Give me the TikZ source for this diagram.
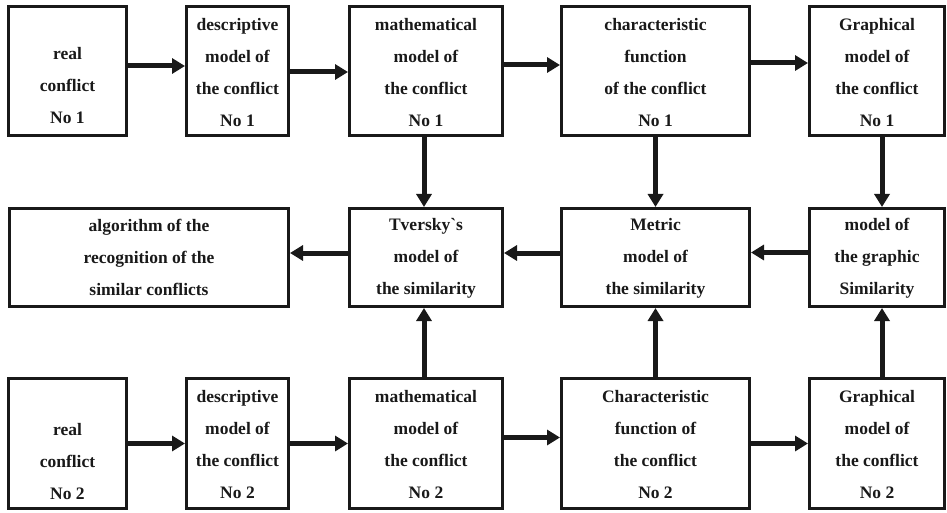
\documentclass[tikz,border=0pt]{standalone}
\usepackage{fontspec}
\setmainfont{Liberation Serif}
\newfontfamily\plainserif{Liberation Serif}
\usetikzlibrary{arrows.meta}
\tikzset{
  box/.style={draw=black!90, line width=3pt, rectangle, inner sep=0pt, fill=white},
  txt/.style={align=center, inner sep=0pt, font=\bfseries\fontsize{17.5}{32}\selectfont, text=black!90},
  arr/.style={draw=black!90, line width=5pt, -{Triangle[length=13pt,width=15pt]}, shorten >=0pt}
}
\begin{document}
\begin{tikzpicture}[x=1pt,y=-1pt]
\useasboundingbox (0,0) rectangle (947,513);
% row 1 boxes
\node[box, minimum width=118pt, minimum height=129pt] (b11) at (67.5,71) {};
\node[box, minimum width=102pt, minimum height=129pt] (b12) at (237.5,71) {};
\node[box, minimum width=153pt, minimum height=129pt] (b13) at (426,71) {};
\node[box, minimum width=188pt, minimum height=129pt] (b14) at (655.5,71) {};
\node[box, minimum width=135pt, minimum height=129pt] (b15) at (877,71) {};
% row 2 boxes
\node[box, minimum width=279pt, minimum height=98pt] (alg) at (149,257.5) {};
\node[box, minimum width=153pt, minimum height=98pt] (tv) at (426,257.5) {};
\node[box, minimum width=188pt, minimum height=98pt] (me) at (655.5,257.5) {};
\node[box, minimum width=135pt, minimum height=98pt] (gs) at (877,257.5) {};
% row 3 boxes
\node[box, minimum width=118pt, minimum height=130pt] (b31) at (67.5,443.5) {};
\node[box, minimum width=102pt, minimum height=130pt] (b32) at (237.5,443.5) {};
\node[box, minimum width=153pt, minimum height=130pt] (b33) at (426,443.5) {};
\node[box, minimum width=188pt, minimum height=130pt] (b34) at (655.5,443.5) {};
\node[box, minimum width=135pt, minimum height=130pt] (b35) at (877,443.5) {};
% texts row 1
\node[txt] (t11) at (67.5,86) {real\\conflict\\No 1};
\node[txt] (t12) at (237.5,72.5) {descriptive\\model of\\the conflict\\No 1};
\node[txt] (t13) at (426,72.5) {mathematical\\model of\\the conflict\\No 1};
\node[txt] (t14) at (655.5,72.5) {characteristic\\function\\of the conflict\\No 1};
\node[txt] (t15) at (877,72.5) {Graphical\\model of\\the conflict\\No 1};
% texts row 2
\node[txt] (talg) at (149,257) {algorithm of the\\recognition of the\\similar conflicts};
\node[txt] (ttv) at (426,258) {Tversky{\plainserif`}s\\model of\\the similarity};
\node[txt] (tme) at (655.5,258) {Metric\\model of\\the similarity};
\node[txt] (tgs) at (877,258) {model of\\the graphic\\Similarity};
% texts row 3
\node[txt] (t31) at (67.5,461.5) {real\\conflict\\No 2};
\node[txt] (t32) at (237.5,445) {descriptive\\model of\\the conflict\\No 2};
\node[txt] (t33) at (426,445) {mathematical\\model of\\the conflict\\No 2};
\node[txt] (t34) at (655.5,445) {Characteristic\\function of\\the conflict\\No 2};
\node[txt] (t35) at (877,445) {Graphical\\model of\\the conflict\\No 2};
% row 1 arrows
\draw[arr] ([yshift=5pt]b11.east) -- ([yshift=5pt]b12.west);
\draw[arr] ([yshift=-1pt]b12.east) -- ([yshift=-1pt]b13.west);
\draw[arr] ([yshift=6pt]b13.east) -- ([yshift=6pt]b14.west);
\draw[arr] ([yshift=8pt]b14.east) -- ([yshift=8pt]b15.west);
% row 2 arrows
\draw[arr] ([yshift=4.5pt]tv.west) -- ([yshift=4.5pt]alg.east);
\draw[arr] ([yshift=4.5pt]me.west) -- ([yshift=4.5pt]tv.east);
\draw[arr] ([yshift=5pt]gs.west) -- ([yshift=5pt]me.east);
% row 3 arrows
\draw[arr] (b31.east) -- (b32.west);
\draw[arr] (b32.east) -- (b33.west);
\draw[arr] ([yshift=6pt]b33.east) -- ([yshift=6pt]b34.west);
\draw[arr] (b34.east) -- (b35.west);
% vertical arrows down
\draw[arr] ([xshift=-2pt]b13.south) -- ([xshift=-2pt]tv.north);
\draw[arr] (b14.south) -- (me.north);
\draw[arr] ([xshift=5pt]b15.south) -- ([xshift=5pt]gs.north);
% vertical arrows up
\draw[arr] ([xshift=-2pt]b33.north) -- ([xshift=-2pt]tv.south);
\draw[arr] (b34.north) -- (me.south);
\draw[arr] ([xshift=5pt]b35.north) -- ([xshift=5pt]gs.south);
\end{tikzpicture}
\end{document}
